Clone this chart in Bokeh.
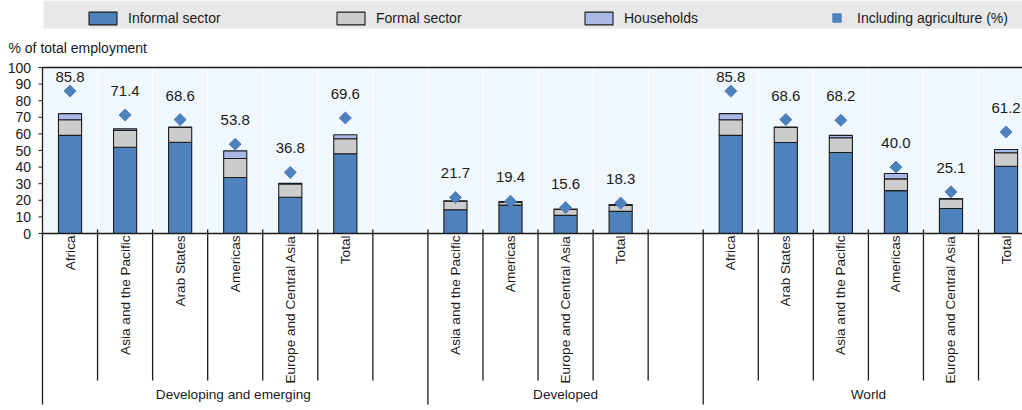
import numpy as np
from bokeh.plotting import figure
from bokeh.models import (ColumnDataSource, Range1d, BoxAnnotation, Legend, LegendItem)
from bokeh.core.properties import value
from bokeh.embed import file_html
from bokeh.resources import INLINE

# ---------------- data ----------------
groups = ["Developing  and emerging", "Developed", "World"]

cats_developing = ["Africa", "Asia and the Pacific", "Arab States", "Americas",
                   "Europe and Central Asia", "Total"]
informal_developing = [59.1, 52.0, 55.0, 33.7, 21.8, 48.0]
formal_developing = [9.4, 10.1, 8.9, 11.5, 8.0, 9.1]
households_developing = [3.7, 1.0, 0.3, 4.6, 0.4, 2.4]
agri_developing = [85.8, 71.4, 68.6, 53.8, 36.8, 69.6]

cats_developed = ["Asia and the Pacific", "Americas", "Europe and Central Asia", "Total"]
informal_developed = [14.3, 17.1, 10.9, 13.3]
formal_developed = [5.1, 1.7, 3.6, 3.8]
households_developed = [0.3, 0.4, 0.2, 0.3]
agri_developed = [21.7, 19.4, 15.6, 18.3]

cats_world = ["Africa", "Arab States", "Asia and the Pacific", "Americas",
              "Europe and Central Asia", "Total"]
informal_world = [59.1, 54.8, 48.8, 25.8, 15.1, 40.5]
formal_world = [9.4, 9.1, 8.9, 7.1, 5.7, 8.1]
households_world = [3.7, 0.3, 1.4, 3.2, 0.3, 2.0]
agri_world = [85.8, 68.6, 68.2, 40.0, 25.1, 61.2]

y_ticks = [0, 10, 20, 30, 40, 50, 60, 70, 80, 90, 100]
y_title = "% of total employment"
series_names = ["Informal sector", "Formal sector", "Households", "Including agriculture (%)"]

# ---------------- styles ----------------
FONT = "Liberation Sans"
C_INF = "#4F81BD"
C_FORM = "#CCCCCC"
C_HH = "#A9B8E6"
C_DIAM = "#4F81BD"
C_LINE = "#1c1c1c"
TXT = "#1a1a1a"

# ---------------- slot layout ----------------
group_data = [
    (cats_developing, informal_developing, formal_developing, households_developing, agri_developing),
    (cats_developed, informal_developed, formal_developed, households_developed, agri_developed),
    (cats_world, informal_world, formal_world, households_world, agri_world),
]
xs, names, inf, frm, hh, agri = [], [], [], [], [], []
group_starts, group_centers = [], []
pos = 0
for gi, (cats, a, b, c, d) in enumerate(group_data):
    start = pos
    group_starts.append(pos)
    for i, name in enumerate(cats):
        xs.append(pos + 0.5)
        names.append(name)
        inf.append(a[i]); frm.append(b[i]); hh.append(c[i]); agri.append(d[i])
        pos += 1
    if gi < len(group_data) - 1:
        pos += 1  # empty slot between groups
    group_centers.append((start + pos) / 2)
boundaries = list(range(0, pos + 1))

# pixel geometry (whole figure is the frame)
W, H = 1022, 410
X0_PX = 42.0          # left edge of first slot
SLOT_PX = 55.06
Y0_PX = 233.0         # y = 0
UNIT_PX = 1.66        # px per percentage point

def dx(px):
    return (px - X0_PX) / SLOT_PX

def dy(py):
    return (Y0_PX - py) / UNIT_PX

agri_arr = np.array(agri)
src = ColumnDataSource(dict(
    x=xs, informal=inf, formal=frm, households=hh, agri=agri,
    lab=[f"{v:.1f}" for v in agri],
    laby=np.minimum(agri_arr + 14.5, 94.3),
    name=names,
))

p = figure(width=W, height=H, x_range=Range1d(dx(0), dx(W)), y_range=Range1d(dy(H), dy(0)),
           x_axis_location=None, y_axis_location=None, output_backend="svg",
           toolbar_location=None, min_border_left=0, min_border_right=0,
           min_border_top=0, min_border_bottom=0)
p.outline_line_color = None
p.background_fill_color = "white"
p.border_fill_color = "white"
p.grid.visible = False

# plot background (0..100 only)
p.add_layout(BoxAnnotation(left=0, bottom=0, top=100, fill_color="#F1F8FD", fill_alpha=1,
                           line_color=None, level="image"))

# faint vertical gridlines inside plot area
p.segment(x0=boundaries, y0=[0] * len(boundaries), x1=boundaries, y1=[100] * len(boundaries),
          line_color="white", line_width=1.2)

# bars
rs = p.vbar_stack(["informal", "formal", "households"], x="x", width=0.42, source=src,
                  fill_color=[C_INF, C_FORM, C_HH], line_color=C_LINE, line_width=1.1)
sc = p.scatter("x", "agri", source=src, marker="square", angle=np.pi / 4, size=8.5,
               fill_color=C_DIAM, line_color=C_DIAM)

# value labels
p.text("x", "laby", text="lab", source=src, text_align="center", text_baseline="middle",
       text_font=value(FONT), text_font_size="15px", text_color=TXT)

# frame lines: top border, x axis line
last = boundaries[-1]
p.segment(x0=[0, 0], y0=[100, 0], x1=[last, last], y1=[100, 0],
          line_color=C_LINE, line_width=1.7)

# y ticks and tick labels
p.segment(x0=[dx(38)] * len(y_ticks), y0=y_ticks, x1=[0] * len(y_ticks), y1=y_ticks,
          line_color=C_LINE, line_width=1)
p.text([dx(30.5)] * len(y_ticks), y_ticks, text=[str(t) for t in y_ticks],
       text_align="right", text_baseline="middle", text_font=value(FONT),
       text_font_size="14px", text_color=TXT)
# y axis title
p.text([dx(8)], [dy(47)], text=[y_title], text_align="left", text_baseline="middle",
       text_font=value(FONT), text_font_size="14px", text_color=TXT)

# separators below axis (first one is also the left border)
sep_top = [100 if b == 0 else dy(229) for b in boundaries]
sep_bot = [dy(404) if b in group_starts else dy(380) for b in boundaries]
p.segment(x0=boundaries, y0=sep_top, x1=boundaries, y1=sep_bot,
          line_color=C_LINE, line_width=1.3)

# category labels
p.text("x", 0, text="name", source=src, angle=np.pi / 2, text_align="right",
       text_baseline="middle", y_offset=2, text_font=value(FONT),
       text_font_size="13.6px", text_color=TXT)

# group labels
gsrc = ColumnDataSource(dict(x=group_centers, g=groups))
p.text("x", dy(394), text="g", source=gsrc, text_align="center",
       text_baseline="middle", text_font=value(FONT), text_font_size="13.6px",
       text_color=TXT)

# legend band
p.add_layout(BoxAnnotation(left=dx(43), bottom=dy(28), fill_color="#E8E8E8", fill_alpha=1,
                           line_color=None))

# legends
leg1 = Legend(items=[LegendItem(label=series_names[i], renderers=[rs[i]]) for i in range(3)],
              orientation="horizontal", location=(85, H - 26), glyph_width=35,
              glyph_height=16, label_height=16, label_width=205, label_standoff=8,
              spacing=0, padding=0, margin=0, border_line_color=None,
              background_fill_alpha=0, label_text_font=FONT, label_text_font_size="14px",
              label_text_color=TXT)
leg2 = Legend(items=[LegendItem(label=series_names[3], renderers=[sc])],
              orientation="horizontal", location=(826, H - 28), glyph_width=21,
              glyph_height=21, label_height=21, label_standoff=10, spacing=0, padding=0,
              margin=0, border_line_color=None, background_fill_alpha=0,
              label_text_font=FONT, label_text_font_size="14px", label_text_color=TXT)
p.add_layout(leg1)
p.add_layout(leg2)

open("out.html", "w").write(file_html(p, INLINE))
